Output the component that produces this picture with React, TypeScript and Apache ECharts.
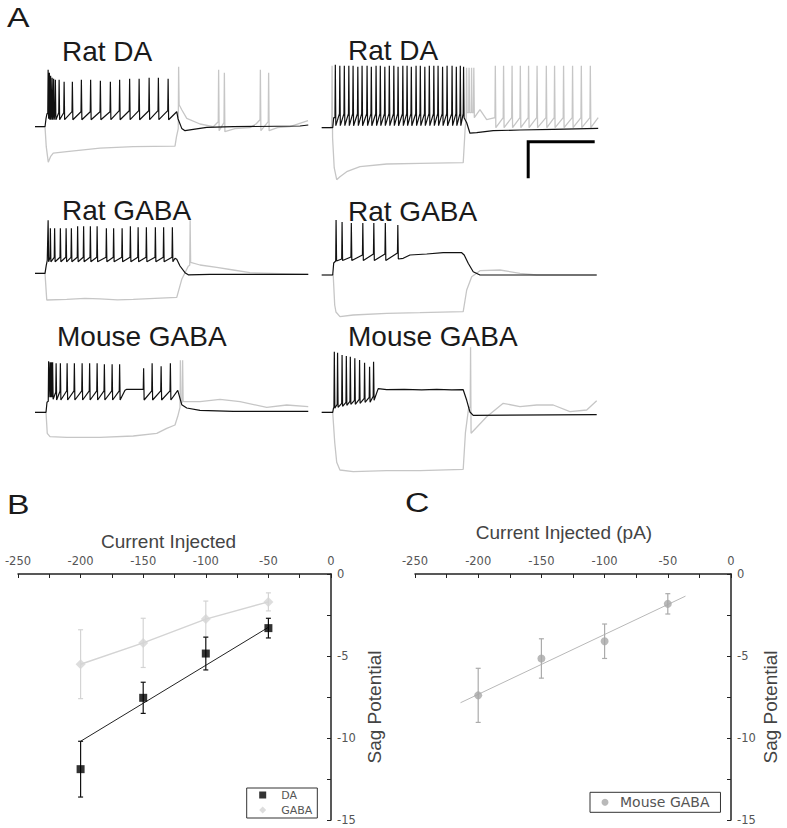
import React, { useEffect, useRef } from 'react';
import * as echarts from 'echarts';

// ---------- Panel A: voltage traces (time in ms, membrane potential in mV) ----------
// base = subthreshold key points [t, v]; spikes = [t, threshold, peak, after-hyperpolarisation]
const ratDaLBlackBase = [[0, -60], [40, -60], [44, -52], [48, -47], [567, -45], [572, -52], [587, -61.7], [600, -64], [633, -62.7], [687, -60.7], [793, -60], [1060, -59.3], [1093, -58.3]];
const ratDaLBlackSpikes = [[51, -47, -3, -52], [56, -46, -6, -53], [61, -46, -9, -53], [67, -46, -11, -53], [73, -46, -12, -53], [80, -46, -13, -53], [95, -46, -13, -53], [115, -46, -15, -53], [148, -45, -15, -53], [184, -45, -13, -53], [221, -45, -13, -53], [260, -45, -14, -53], [300, -45, -15, -53], [337, -44, -13, -53], [377, -44, -12, -53], [415, -44, -12, -53], [455, -44, -11, -53], [492, -44, -11, -53], [531, -44, -12, -53]];
const ratDaLGreyBase = [[0, -60], [40, -60], [45, -80], [53, -95.5], [62, -90], [73, -86.5], [127, -85], [260, -81.5], [393, -80], [560, -79.5], [566, -70], [587, -43], [607, -51.7], [660, -57.3], [713, -60], [800, -62], [860, -61], [885, -57], [970, -61], [1020, -60], [1092, -54]];
const ratDaLGreySpikes = [[573, -62, 0, -38], [733, -55, -3, -64], [756, -56, -6, -65], [900, -53, -3, -64], [933, -55, -6, -64]];

const ratDaRBlackBase = [[0, -60], [44, -60], [48, -50], [580, -55], [593, -65.5], [620, -65], [686, -63], [793, -62.3], [926, -61.6], [1106, -60.6]];
const ratDaRBlackSpikeTimes = [53, 71, 89, 107, 124, 143, 160, 180, 197, 216, 233, 251, 269, 287, 304, 323, 340, 357, 376, 393, 411, 429, 447, 464, 482, 500, 520, 537, 553, 566];
const ratDaRBlackSpikePeaks = [3, 2, 2, 2, 2, 1, 2, 2, 1, 2, 2, 1, 2, 2, 1, 2, 2, 1, 2, 2, 1, 2, 2, 2, 1, 2, 2, 1, 2, 1];
const ratDaRBlackThreshold = [-50, -46, -46, -46, -46, -46, -46, -46, -46, -46, -46, -46, -46, -46, -46, -46, -46, -46, -46, -46, -46, -46, -46, -46, -46, -46, -46, -46, -46, -46];
const ratDaRBlackAhp = [-58, -58, -58, -58, -58, -58, -58, -58, -58, -58, -58, -58, -58, -58, -58, -58, -58, -58, -58, -58, -58, -58, -58, -58, -58, -58, -58, -58, -58, -50];
const ratDaRGreyBase = [[0, -60], [36, -60], [50, -100], [60, -112], [73, -109], [100, -104], [153, -99], [260, -96.3], [393, -95.6], [566, -95], [574, -60], [633, -42], [660, -52], [1106, -50]];
const ratDaRGreySpikes = [[40, -58, 2, -70], [578, -50, 0, -45], [588, -45, 0, -45], [598, -45, 0, -45], [607, -45, 0, -50], [693, -50, 2, -60], [726, -50, 2, -60], [760, -50, 2, -60], [793, -50, 2, -60], [826, -50, 2, -60], [860, -50, 2, -60], [897, -50, 2, -60], [930, -50, 2, -60], [966, -50, 2, -60], [1002, -50, 2, -60], [1037, -50, 2, -60], [1073, -50, 2, -60]];
// scale bar drawn in the Rat DA (right) trace: origin [t, v], length ms, height mV
const scaleBarOrigin = [826, -74];
const scaleBarMs = 260;
const scaleBarMv = 35;

const ratGabaLBlackBase = [[0, -60], [40, -60], [45, -52], [49, -47], [560, -45], [567, -46], [580, -52.7], [600, -59.4], [613, -61.5], [700, -61], [1093, -61]];
const ratGabaLBlackSpikes = [[51, -47, -7, -48.5], [60, -44, -15, -48.5], [77, -44, -15, -48.5], [100, -44, -15, -48.5], [123, -44, -15, -48.5], [144, -44, -15, -48.5], [169, -44, -13, -48.5], [193, -44, -13, -48.5], [220, -44, -13, -48.5], [247, -44, -13, -48.5], [284, -44, -15, -48.5], [313, -44, -15, -48.5], [347, -44, -15, -48.5], [380, -44, -13, -48.5], [411, -44, -14, -48.5], [444, -44, -14, -48.5], [480, -44, -14, -48.5], [513, -44, -14, -48.5], [548, -44, -14, -48.5]];
const ratGabaLGreyBase = [[0, -60], [40, -60], [47, -86.7], [127, -86], [200, -85], [260, -85.5], [330, -86.5], [393, -86], [480, -85], [567, -84], [587, -66], [613, -53], [660, -51.7], [727, -54], [793, -56.7], [860, -59.4], [1093, -61]];
const ratGabaLGreySpikes = [[619, -52, -7, -49]];

const ratGabaRBlackBase = [[0, -60], [44, -60], [48, -48], [326, -43.3], [353, -40], [420, -39], [486, -37.7], [560, -37.7], [570, -40], [586, -48.3], [606, -56.7], [633, -60], [1100, -60]];
const ratGabaRBlackSpikes = [[56, -46, -5, -46], [80, -44, -7, -45.5], [117, -42, -8, -45.5], [163, -40, -8, -45.5], [207, -39, -8, -45.5], [253, -39, -8, -45.5], [303, -38, -10, -44]];
const ratGabaRGreyBase = [[0, -60], [46, -60], [52, -90], [57, -97], [73, -101.7], [126, -100], [260, -98.3], [393, -97.7], [566, -96.7], [580, -75], [600, -61.7], [633, -55.7], [713, -55], [793, -58.3], [860, -60], [1100, -60]];
const ratGabaRGreySpikes: number[][] = [];

const mouseGabaLBlackBase = [[0, -60], [44, -60], [48, -50], [360, -38], [367, -37], [425, -37], [571, -38], [587, -52.4], [607, -55.7], [660, -58], [793, -59], [1093, -59]];
const mouseGabaLBlackSpikes = [[53, -49, -9, -45], [59, -45, -10, -45], [64, -45, -10, -45], [69, -45, -10, -47], [83, -40, -11, -47.7], [100, -39, -11, -47.7], [127, -38.5, -11, -47.7], [156, -38.5, -11, -47.7], [187, -38.5, -11, -47.7], [217, -38.5, -11, -47.7], [247, -38.5, -11, -47.7], [276, -38.5, -12, -47.7], [307, -38.5, -12, -47.7], [337, -38.5, -12, -47.7], [433, -37, -16, -47.7], [467, -38.5, -11, -47.7], [503, -38.5, -14, -47.7], [540, -38.5, -11, -47.7]];
const mouseGabaLGreyBase = [[0, -60], [44, -60], [49, -81], [60, -84.4], [127, -85], [260, -85], [393, -83.7], [487, -81], [527, -76], [560, -72.7], [571, -64], [600, -49.4], [660, -49.4], [740, -47], [820, -49.4], [927, -55], [1007, -52.7], [1093, -54.4]];
const mouseGabaLGreySpikes = [[580, -55, -8, -50], [589, -50, -8, -49]];

const mouseGabaRBlackBase = [[0, -60], [44, -60], [47, -56], [226, -36.3], [260, -37.4], [330, -37], [400, -37.5], [460, -37], [520, -37.5], [566, -37.4], [580, -48], [593, -59.7], [606, -63], [1100, -62.4]];
const mouseGabaRBlackSpikes = [[49, -55, 0.6, -56], [62, -52, -0.4, -55], [80, -51, -2.7, -54], [97, -50, -3.7, -53], [113, -49, -4.4, -52], [131, -48, -6, -52], [150, -47, -7.7, -51], [170, -46, -10.4, -50], [190, -45, -14.4, -50], [206, -44, -9.4, -48]];
const mouseGabaRGreyBase = [[0, -60], [44, -60], [52, -90], [60, -110], [73, -117.7], [126, -119.4], [260, -118.4], [393, -118.4], [566, -117], [575, -80], [588, -55], [660, -64.4], [726, -51], [793, -54.4], [860, -52.7], [926, -52.7], [993, -59.4], [1060, -57.7], [1100, -48.4]];
const mouseGabaRGreySpikes = [[594, -55, 5, -81]];

const traceTitles = ['Rat DA', 'Rat DA', 'Rat GABA', 'Rat GABA', 'Mouse GABA', 'Mouse GABA'];

// ---------- Panels B and C: sag potential vs injected current ----------
const currents = [-200, -150, -100, -50];
const daMean = [-11.9, -7.55, -4.85, -3.3];
const daSem = [1.7, 0.95, 1.0, 0.6];
const gabaMean = [-5.5, -4.2, -2.75, -1.7];
const gabaSem = [2.1, 1.5, 1.1, 0.55];
const daFit = [[-200, -10.2], [-50, -3.25]];
const mouseGabaMean = [-7.4, -5.15, -4.1, -1.82];
const mouseGabaSem = [1.65, 1.2, 1.05, 0.62];
const mouseGabaFit = [[-214, -7.85], [-36, -1.35]];
const xTicksMin = -250;
const xTicksMax = 0;
const yTicksMin = -15;
const yTicksMax = 0;

// ---------- layout / style (not data) ----------
const traceLayout = [
  { left: 35, base: 126.7 }, { left: 321.7, base: 127.7 },
  { left: 35, base: 273.3 }, { left: 321.7, base: 275 },
  { left: 35, base: 412.3 }, { left: 321.7, base: 412.3 },
];
const traceTitlePos = [[62, 51], [348, 50], [62, 210], [348, 211], [57, 336.5], [348, 336.5]];
const BLACK = '#111111';
const GREY = '#c6c6c6';
const FONT = 'Liberation Sans, Arial, sans-serif';
const TICKFONT = 'DejaVu Sans, sans-serif';

function buildTrace(base: number[][], spikes: number[][]): number[][] {
  const pts = base.map((p) => [p[0], p[1]]);
  spikes.forEach(([t, thr, peak, ahp]) => {
    pts.push([t, thr], [t + 1.5, peak], [t + 3.5, ahp]);
  });
  pts.sort((a, b) => a[0] - b[0]);
  return pts;
}

const ratDaRBlackSpikes = ratDaRBlackSpikeTimes.map((t, i) => [t, ratDaRBlackThreshold[i], ratDaRBlackSpikePeaks[i], ratDaRBlackAhp[i]]);

const traces = [
  { black: buildTrace(ratDaLBlackBase, ratDaLBlackSpikes), grey: buildTrace(ratDaLGreyBase, ratDaLGreySpikes) },
  { black: buildTrace(ratDaRBlackBase, ratDaRBlackSpikes), grey: buildTrace(ratDaRGreyBase, ratDaRGreySpikes) },
  { black: buildTrace(ratGabaLBlackBase, ratGabaLBlackSpikes), grey: buildTrace(ratGabaLGreyBase, ratGabaLGreySpikes) },
  { black: buildTrace(ratGabaRBlackBase, ratGabaRBlackSpikes), grey: buildTrace(ratGabaRGreyBase, ratGabaRGreySpikes) },
  { black: buildTrace(mouseGabaLBlackBase, mouseGabaLBlackSpikes), grey: buildTrace(mouseGabaLGreyBase, mouseGabaLGreySpikes) },
  { black: buildTrace(mouseGabaRBlackBase, mouseGabaRBlackSpikes), grey: buildTrace(mouseGabaRGreyBase, mouseGabaRGreySpikes) },
];

function errorBarSeries(name: string, means: number[], sems: number[], color: string, axis: number) {
  return {
    type: 'custom',
    name,
    xAxisIndex: axis,
    yAxisIndex: axis,
    silent: true,
    z: 3,
    data: currents.map((c, i) => [c, means[i], sems[i]]),
    encode: { x: 0, y: 1 },
    renderItem: (params: any, api: any) => {
      const x = api.value(0);
      const m = api.value(1);
      const s = api.value(2);
      const top = api.coord([x, m + s]);
      const bot = api.coord([x, m - s]);
      const w = 2.5;
      const style = { stroke: color, lineWidth: 1.2 };
      return {
        type: 'group',
        children: [
          { type: 'line', shape: { x1: top[0], y1: top[1], x2: bot[0], y2: bot[1] }, style },
          { type: 'line', shape: { x1: top[0] - w, y1: top[1], x2: top[0] + w, y2: top[1] }, style },
          { type: 'line', shape: { x1: bot[0] - w, y1: bot[1], x2: bot[0] + w, y2: bot[1] }, style },
        ],
      };
    },
  };
}

function sagXAxis(idx: number) {
  return {
    type: 'value',
    gridIndex: idx,
    position: 'top',
    min: xTicksMin,
    max: xTicksMax,
    interval: 50,
    axisLine: { onZero: false, lineStyle: { color: '#222', width: 1.5 } },
    axisTick: { inside: true, length: 4, lineStyle: { color: '#222', width: 1 } },
    minorTick: { show: true, splitNumber: 2, length: 4, lineStyle: { color: '#222', width: 1 } },
    axisLabel: { margin: 7, fontSize: 11.5, color: '#555', fontFamily: TICKFONT },
    splitLine: { show: false },
  };
}
function sagYAxis(idx: number) {
  return {
    type: 'value',
    gridIndex: idx,
    position: 'right',
    min: yTicksMin,
    max: yTicksMax,
    interval: 5,
    axisLine: { onZero: false, lineStyle: { color: '#222', width: 1.5 } },
    axisTick: { inside: true, length: 4, lineStyle: { color: '#222', width: 1 } },
    minorTick: { show: true, splitNumber: 2, length: 4, lineStyle: { color: '#222', width: 1 } },
    axisLabel: { margin: 6, fontSize: 11.5, color: '#555', fontFamily: TICKFONT },
    splitLine: { show: false },
  };
}

function buildOption() {
  const grids: any[] = traceLayout.map((l) => ({ left: l.left, top: l.base - 70, width: 277.5, height: 140 }));
  grids.push({ left: 18, top: 574, width: 313, height: 246 });
  grids.push({ left: 415, top: 574, width: 316, height: 246 });

  const xAxes: any[] = traceLayout.map((_, i) => ({ type: 'value', gridIndex: i, min: 0, max: 1110, show: false }));
  const yAxes: any[] = traceLayout.map((_, i) => ({ type: 'value', gridIndex: i, min: -130, max: 10, show: false }));
  xAxes.push(sagXAxis(6), sagXAxis(7));
  yAxes.push(sagYAxis(6), sagYAxis(7));

  const series: any[] = [];
  traces.forEach((tr, i) => {
    series.push({
      type: 'line', name: 'hyperpolarising ' + i, xAxisIndex: i, yAxisIndex: i, data: tr.grey,
      showSymbol: false, symbol: 'none', silent: true, z: 1,
      lineStyle: { color: GREY, width: 1.3 },
    });
    series.push({
      type: 'line', name: 'depolarising ' + i, xAxisIndex: i, yAxisIndex: i, data: tr.black,
      showSymbol: false, symbol: 'none', silent: true, z: 2,
      lineStyle: { color: BLACK, width: 1.2 },
    });
  });
  series.push({
    type: 'line', name: 'scale bar', xAxisIndex: 1, yAxisIndex: 1, silent: true, z: 3,
    data: [
      [scaleBarOrigin[0] + scaleBarMs, scaleBarOrigin[1]],
      [scaleBarOrigin[0], scaleBarOrigin[1]],
      [scaleBarOrigin[0], scaleBarOrigin[1] - scaleBarMv],
    ],
    showSymbol: false, symbol: 'none', lineStyle: { color: '#000', width: 3, cap: 'square', join: 'miter' },
  });

  // Panel B
  series.push({
    type: 'line', name: 'DA fit', xAxisIndex: 6, yAxisIndex: 6, data: daFit, silent: true, z: 2,
    showSymbol: false, symbol: 'none', lineStyle: { color: '#222', width: 1 },
  });
  series.push({
    type: 'line', name: 'GABA line', xAxisIndex: 6, yAxisIndex: 6, silent: true, z: 2,
    data: currents.map((c, i) => [c, gabaMean[i]]),
    showSymbol: false, symbol: 'none', lineStyle: { color: '#d4d4d4', width: 1.5 },
  });
  series.push(errorBarSeries('GABA sem', gabaMean, gabaSem, '#d4d4d4', 6));
  series.push(errorBarSeries('DA sem', daMean, daSem, '#111', 6));
  series.push({
    type: 'scatter', name: 'GABA', xAxisIndex: 6, yAxisIndex: 6, z: 4,
    data: currents.map((c, i) => [c, gabaMean[i]]),
    symbol: 'diamond', symbolSize: 10, itemStyle: { color: '#d4d4d4' },
  });
  series.push({
    type: 'scatter', name: 'DA', xAxisIndex: 6, yAxisIndex: 6, z: 5,
    data: currents.map((c, i) => [c, daMean[i]]),
    symbol: 'rect', symbolSize: 8, itemStyle: { color: '#000' },
  });

  // Panel C
  series.push({
    type: 'line', name: 'Mouse GABA fit', xAxisIndex: 7, yAxisIndex: 7, data: mouseGabaFit, silent: true, z: 2,
    showSymbol: false, symbol: 'none', lineStyle: { color: '#b8b8b8', width: 1 },
  });
  series.push(errorBarSeries('Mouse GABA sem', mouseGabaMean, mouseGabaSem, '#ababab', 7));
  series.push({
    type: 'scatter', name: 'Mouse GABA', xAxisIndex: 7, yAxisIndex: 7, z: 4,
    data: currents.map((c, i) => [c, mouseGabaMean[i]]),
    symbol: 'circle', symbolSize: 8, itemStyle: { color: '#a8a8a8' },
  });

  const graphic: any[] = [];
  const letter = (t: string, x: number, y: number) => ({
    type: 'text', x, y, scaleX: 1.25, silent: true,
    style: { text: t, font: '27px ' + FONT, fill: '#1a1a1a', align: 'left', verticalAlign: 'middle' },
  });
  graphic.push(letter('A', 7, 17.5), letter('B', 7, 504), letter('C', 405, 502.5));
  traceTitles.forEach((t, i) => {
    graphic.push({
      type: 'text', x: traceTitlePos[i][0], y: traceTitlePos[i][1], silent: true,
      style: { text: t, font: '28px ' + FONT, fill: '#1a1a1a', align: 'left', verticalAlign: 'middle' },
    });
  });
  const title = (t: string, x: number, y: number, rot = 0) => ({
    type: 'text', x, y, rotation: rot, silent: true,
    style: { text: t, font: '19px ' + FONT, fill: '#444', align: 'center', verticalAlign: 'middle' },
  });
  graphic.push(title('Current Injected', 168.5, 541.5));
  graphic.push(title('Current Injected (pA)', 564, 532.5));
  graphic.push(title('Sag Potential', 374.5, 707, Math.PI / 2));
  graphic.push(title('Sag Potential', 770.5, 707, Math.PI / 2));

  return {
    animation: false,
    backgroundColor: '#ffffff',
    grid: grids,
    xAxis: xAxes,
    yAxis: yAxes,
    legend: [
      {
        data: ['DA', 'GABA'], orient: 'vertical', left: 246.7, top: 788, selectedMode: false,
        padding: [1, 5, 2, 12.5], itemWidth: 7, itemHeight: 7, itemGap: 3,
        borderColor: '#333', borderWidth: 1,
        textStyle: { fontSize: 11, color: '#555', fontFamily: TICKFONT, lineHeight: 12, padding: [0, 0, 0, 10] },
      },
      {
        data: ['Mouse GABA'], orient: 'horizontal', left: 590, top: 792.3, selectedMode: false,
        padding: [3, 11, 3, 11.5], itemWidth: 7, itemHeight: 7,
        borderColor: '#333', borderWidth: 1,
        textStyle: { fontSize: 14, color: '#555', fontFamily: TICKFONT, lineHeight: 14, padding: [0, 0, 0, 6.5] },
      },
    ],
    graphic,
    series,
  };
}

export default function App() {
  const ref = useRef<HTMLDivElement>(null);
  useEffect(() => {
    if (!ref.current) return;
    const chart = echarts.init(ref.current, null, { renderer: 'svg' });
    chart.setOption(buildOption() as any);
    return () => chart.dispose();
  }, []);
  return <div ref={ref} style={{ position: 'absolute', left: 0, top: 0, width: 787, height: 828 }} />;
}
